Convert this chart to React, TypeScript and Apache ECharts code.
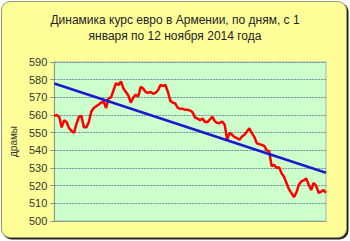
import React, { useEffect, useRef } from "react";
import * as echarts from "echarts";

const titleText = "Динамика курс евро в Армении, по дням, с 1\nянваря по 12 ноября 2014 года";
const yAxisName = "драмы";
const yTicks = [500, 510, 520, 530, 540, 550, 560, 570, 580, 590];

const dailyRate = [
  559.5, 560, 559, 553, 557, 556, 552.5, 551, 550, 555, 559, 559.5, 553, 553, 556, 562, 564, 565, 566, 567,
  567.5, 564, 569.5, 570, 574, 578, 577, 579, 575, 573, 571, 567, 570, 571.5, 570.5, 576, 575, 573, 572.5, 573,
  572, 572.5, 574, 577, 576.5, 577, 573, 568, 567, 566.5, 564, 563.5, 563.5, 563, 563, 562.5, 561.5, 558.5, 558, 557,
  558, 556, 556, 557.5, 559, 556.5, 555.5, 555.5, 556.3, 554.5, 546, 550, 548.8, 547.5, 546.9, 546, 547.8, 548.8, 550.6, 552.5,
  549.7, 547.5, 544, 543.5, 543, 542.5, 540, 539.5, 531, 531.8, 530, 530.5, 527, 525, 521.5, 518, 515.8, 513.5, 516, 520.5,
  522.4, 523, 524, 520.5, 517.5, 521.5, 520, 516, 516.5, 517.5, 516
];

const trendStart = 577.8;
const trendEnd = 527.3;

export default function App() {
  const ref = useRef<HTMLDivElement>(null);
  useEffect(() => {
    if (!ref.current) return;
    const chart = echarts.init(ref.current, null, { renderer: "svg" });
    const n = dailyRate.length;
    chart.setOption({
      animation: false,
      backgroundColor: "transparent",
      title: {
        text: titleText,
        left: "center",
        top: 7,
        textStyle: {
          fontSize: 12,
          fontWeight: "normal",
          color: "#222",
          lineHeight: 16,
          fontFamily: "Liberation Sans, Arial, sans-serif",
        },
      },
      grid: {
        left: 49,
        right: 24,
        top: 62,
        bottom: 20,
        show: true,
        backgroundColor: "#CCFFCC",
        borderColor: "#a8b8a8",
        borderWidth: 1,
      },
      xAxis: {
        type: "value",
        min: 0,
        max: n - 1,
        axisLabel: { show: false },
        axisTick: { show: false },
        splitLine: { show: false },
        axisLine: { show: true, lineStyle: { color: "#8a9a8a", width: 1 } },
      },
      yAxis: {
        type: "value",
        min: yTicks[0],
        max: yTicks[yTicks.length - 1],
        interval: 10,
        name: yAxisName,
        nameLocation: "middle",
        nameGap: 36,
        nameRotate: 90,
        nameTextStyle: { fontSize: 10, color: "#333", fontFamily: "Liberation Sans, Arial, sans-serif" },
        axisLine: { show: true, lineStyle: { color: "#8a9a8a", width: 1 } },
        axisTick: { show: true, length: 4, lineStyle: { color: "#8a9a8a" } },
        axisLabel: {
          fontSize: 11,
          color: "#333",
          margin: 7,
          fontFamily: "Liberation Sans, Arial, sans-serif",
        },
        splitLine: { show: true, lineStyle: { color: "#6f8f9f", width: 1, type: [2, 1] } },
      },
      series: [
        {
          type: "line",
          data: dailyRate.map((v, i) => [i, v]),
          symbol: "none",
          lineStyle: { color: "#ff0000", width: 2.5 },
          z: 3,
        },
        {
          type: "line",
          data: [
            [0, trendStart],
            [n - 1, trendEnd],
          ],
          symbol: "none",
          lineStyle: { color: "#1a1acc", width: 2.5 },
          z: 4,
        },
      ],
    });
    return () => chart.dispose();
  }, []);
  return (
    <div style={{ position: "fixed", left: 0, top: 0, width: 350, height: 241, background: "#fff" }}>
      <div
        style={{
          position: "absolute",
          left: 1,
          top: 1,
          width: 344,
          height: 235,
          background: "#FFFF99",
          borderRadius: 9,
          border: "1px solid #9a9a70",
          boxShadow: "1.5px 1.5px 0.5px #222",
        }}
      />
      <div ref={ref} style={{ position: "absolute", left: 0, top: 0, width: 350, height: 241 }} />
    </div>
  );
}
